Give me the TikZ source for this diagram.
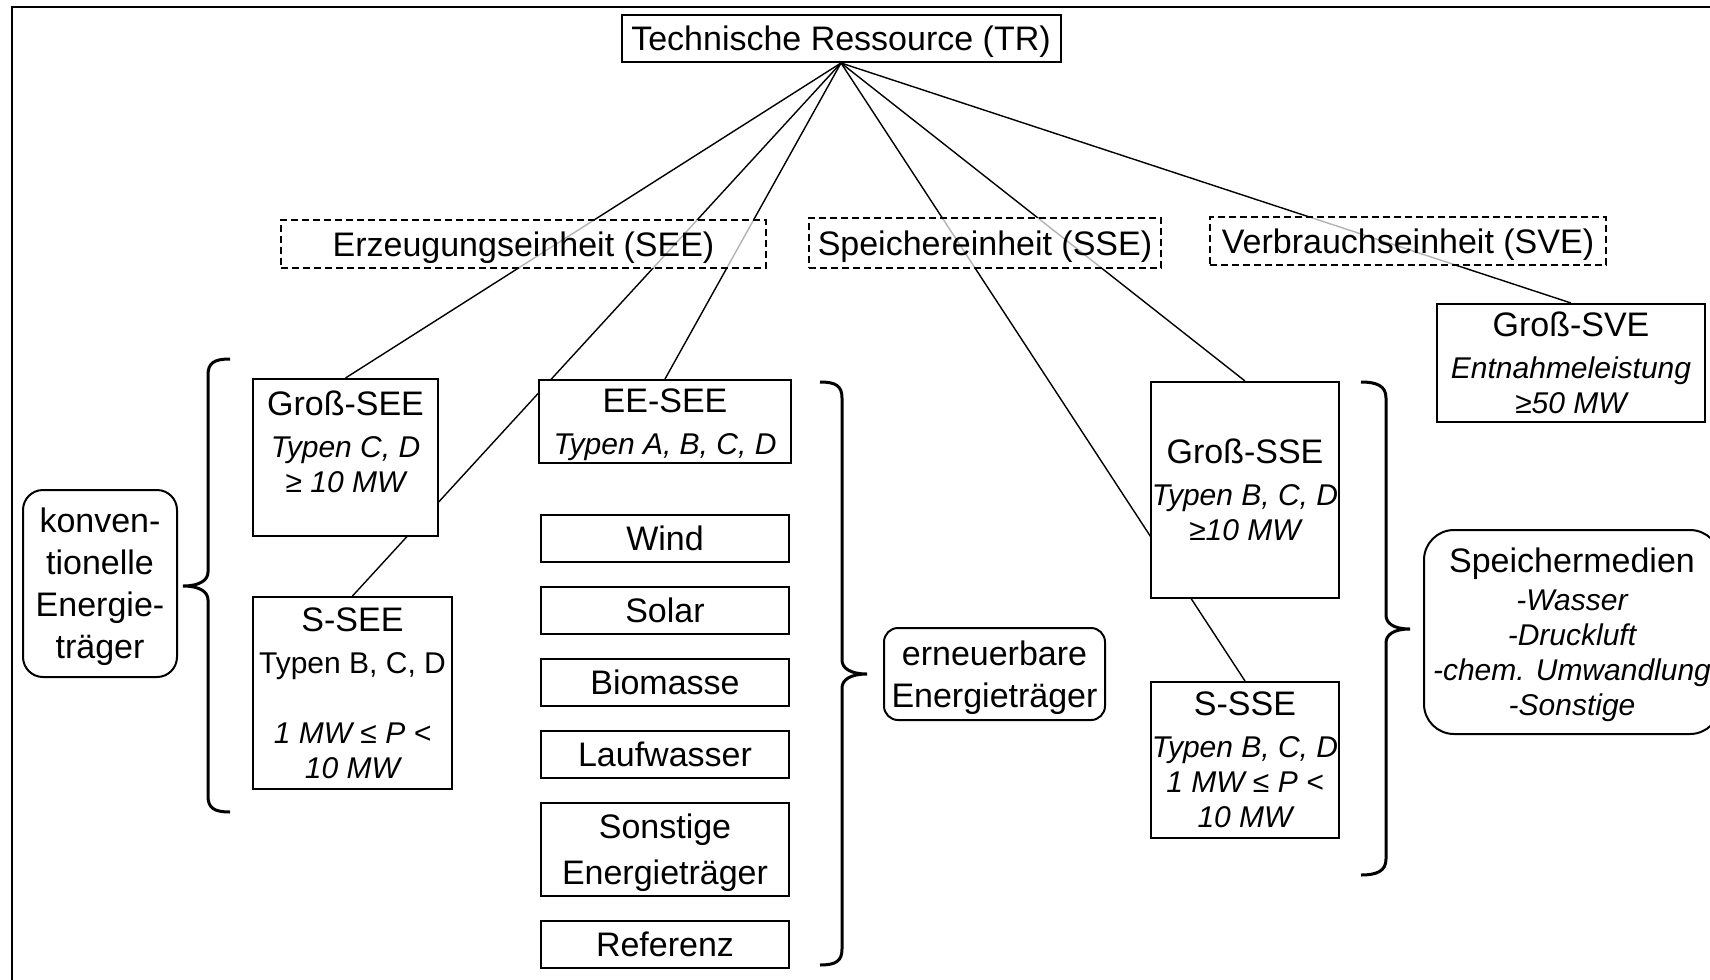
\documentclass[tikz,border=0pt]{standalone}
\usepackage{fontspec}
\setmainfont{Liberation Sans}
\usetikzlibrary{positioning, backgrounds}
\newcommand{\subtxt}{\fontsize{15}{17.5}\selectfont\itshape}
\newcommand{\subup}{\fontsize{15}{17.5}\selectfont}

\begin{document}
\begin{tikzpicture}[x=0.5pt, y=-0.5pt,
  node distance=11.5pt,
  einheit/.style={rectangle, draw, line width=1pt, fill=white, align=center,
                  inner sep=0.5pt, text depth=0pt, font=\fontsize{17}{21}\selectfont},
  quelle/.style={einheit, minimum width=124pt, minimum height=23.5pt},
  gruppe/.style={rectangle, draw, line width=0.9pt, dash pattern=on 3.5pt off 2pt,
                 fill=white, fill opacity=0.7, text opacity=1, draw opacity=1,
                 text depth=0pt, font=\fontsize{17}{21}\selectfont},
  traegerbox/.style={einheit, rounded corners=10pt},
  verbindung/.style={line width=0.7pt},
  klammer/.style={line width=1.5pt},
]
  \useasboundingbox (0,0) rectangle (1710,980);
  \clip (0,0) rectangle (1710,980);
  \draw[line width=1pt] (12,980) -- (12,7) -- (1710,7);

  % Wurzel und Gruppen
  \node[einheit, minimum width=219.5pt, minimum height=23.5pt] (tr) at (841,38.5)
    {Technische Ressource (TR)};
  \node[gruppe, minimum width=242.5pt, minimum height=24pt] (see) at (523.5,244)
    {Erzeugungseinheit (SEE)};
  \node[gruppe, minimum width=176pt, minimum height=25pt] (spe) at (985,243)
    {Speichereinheit (SSE)};
  \node[gruppe, minimum width=198pt, minimum height=24pt] (sve) at (1408,241)
    {Verbrauchseinheit (SVE)};

  % Erzeugung
  \node[einheit, minimum width=92.5pt, minimum height=78.5pt] (gsee) at (345.5,457.5)
    {Groß-SEE\\ {\subtxt Typen C, D}\\[-3.5pt] {\subtxt ≥ 10 MW}\\[-5.5pt] ~};
  \node[einheit, minimum width=99.5pt, minimum height=96pt] (ssee) at (352.5,693)
    {S-SEE\\ {\subup Typen B, C, D}\\[-3.5pt] ~\\[-3.5pt] {\subtxt 1 MW ≤ P <}\\[-3.5pt] {\subtxt 10 MW}};
  \node[traegerbox, minimum width=77pt, minimum height=93.5pt] (konv) at (100,583.5)
    {konven-\\tionelle\\Energie-\\träger};

  \node[einheit, minimum width=126pt, minimum height=41.5pt, text depth=-3.5pt] (eesee) at (665,421.5)
    {EE-SEE\\ {\subtxt Typen A, B, C, D}};
  \node[quelle, below=25pt of eesee] (wind) {Wind};
  \node[quelle, below=of wind] (solar) {Solar};
  \node[quelle, below=of solar] (bio) {Biomasse};
  \node[quelle, below=of bio] (lauf) {Laufwasser};
  \node[quelle, below=of lauf, minimum height=46.5pt] (sonst) {Sonstige\\[2pt]Energieträger};
  \node[quelle, below=of sonst] (ref) {Referenz};
  \node[traegerbox, rounded corners=7pt, minimum width=110.5pt, minimum height=46pt] (ern)
    at (994.5,674) {erneuerbare\\Energieträger};

  % Speicher
  \node[einheit, minimum width=94pt, minimum height=108pt] (gsse) at (1245,490)
    {Groß-SSE\\ {\subtxt Typen B, C, D}\\[-3.5pt] {\subtxt ≥10 MW}};
  \node[einheit, minimum width=94pt, minimum height=78pt] (ssse) at (1245,760)
    {S-SSE\\ {\subtxt Typen B, C, D}\\[-3.5pt] {\subtxt 1 MW ≤ P <}\\[-3.5pt] {\subtxt 10 MW}};
  \node[traegerbox, rounded corners=15pt, minimum width=148pt, minimum height=102pt] (medien)
    at (1572,632) {Speichermedien\\[-2pt] {\subtxt -Wasser}\\[-3.5pt] {\subtxt -Druckluft}\\[-3.5pt]
    {\subtxt -chem. Umwandlung}\\[-3.5pt] {\subtxt -Sonstige}};

  % Verbrauch
  \node[einheit, minimum width=134pt, minimum height=59pt] (gsve) at (1571,363)
    {Groß-SVE\\ {\subtxt Entnahmeleistung}\\[-3.5pt] {\subtxt ≥50 MW}};

  % Verbindungen
  \begin{scope}[on background layer]
    \draw[verbindung] (tr.south) -- (gsee.north);
    \draw[verbindung] (tr.south) -- (ssee.north);
    \draw[verbindung] (tr.south) -- (eesee.north);
    \draw[verbindung] (tr.south) -- (gsse.north);
    \draw[verbindung] (tr.south) -- (ssse.north);
    \draw[verbindung] (tr.south) -- (gsve.north);
  \end{scope}

  % Klammern
  \draw[klammer] (230,359) .. controls (214,359) and (208,363) .. (208,375) -- (208,572)
    .. controls (208,580) and (200,586) .. (183,586) .. controls (200,586) and (208,592) .. (208,600)
    -- (208,796) .. controls (208,808) and (214,812) .. (230,812);
  \draw[klammer] (820,382) .. controls (836,382) and (842,386) .. (842,398) -- (842,660)
    .. controls (842,668) and (850,674) .. (867,674) .. controls (850,674) and (842,680) .. (842,688)
    -- (842,949) .. controls (842,961) and (836,965) .. (820,965);
  \draw[klammer] (1361,382) .. controls (1377,382) and (1386,386) .. (1386,398) -- (1386,615)
    .. controls (1386,623) and (1393,629) .. (1410,629) .. controls (1393,629) and (1386,635) .. (1386,643)
    -- (1386,859) .. controls (1386,871) and (1377,875) .. (1361,875);
\end{tikzpicture}
\end{document}
